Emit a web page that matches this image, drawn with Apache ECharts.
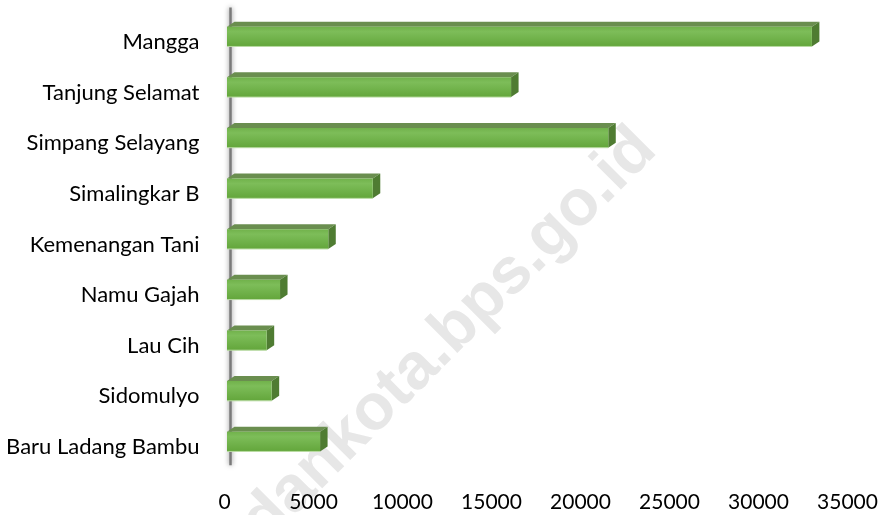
<!DOCTYPE html>
<html>
<head>
<meta charset="utf-8">
<script src="https://cdn.jsdelivr.net/npm/echarts@6/dist/echarts.min.js"></script>
<style>
html,body{margin:0;padding:0;background:#fff;}
#chart{width:883px;height:515px;}
</style>
</head>
<body>
<div id="chart"></div>
<script>
// Categories (top to bottom)
var categories = ['Mangga', 'Tanjung Selamat', 'Simpang Selayang', 'Simalingkar B', 'Kemenangan Tani', 'Namu Gajah', 'Lau Cih', 'Sidomulyo', 'Baru Ladang Bambu'];
// Values
var values = [33000, 16100, 21560, 8330, 5830, 3120, 2370, 2650, 5370];
// Value-axis ticks
var axisMin = 0, axisMax = 35000, axisStep = 5000;
var watermarkText = 'medankota.bps.go.id';

var FONT = 'Lato, "Open Sans", "Noto Sans", sans-serif';
var chart = echarts.init(document.getElementById('chart'), null, {renderer: 'canvas'});

function renderItem(params, api) {
  var cat = api.value(1);
  var val = api.value(0);
  var p0 = api.coord([0, cat]);
  var p1 = api.coord([val, cat]);
  var band = api.size([0, 1])[1];
  var h = band * 0.39;
  var dx = 7.5, dy = 5;
  var x0 = p0[0] + 2.5, x1 = p1[0];
  var yC = p0[1] - band * 0.107;
  var yTop = yC - h / 2, yBot = yC + h / 2;
  return {
    type: 'group',
    children: [
      {type: 'polygon', shape: {points: [[x0, yTop], [x1, yTop], [x1 + dx, yTop - dy], [x0 + dx, yTop - dy]]},
       style: {fill: '#6a8e4f'}},
      {type: 'polygon', shape: {points: [[x1, yTop], [x1 + dx, yTop - dy], [x1 + dx, yBot - dy], [x1, yBot]]},
       style: {fill: '#4f7c32'}},
      {type: 'rect', shape: {x: x0, y: yTop, width: x1 - x0, height: h},
       style: {fill: new echarts.graphic.LinearGradient(0, 0, 0, 1, [
         {offset: 0, color: '#71b24b'},
         {offset: 0.25, color: '#7dbd59'},
         {offset: 1, color: '#63a63b'}
       ])}},
      {type: 'line', shape: {x1: x0, y1: yBot, x2: x1, y2: yBot},
       style: {stroke: '#b9dba3', lineWidth: 1}}
    ]
  };
}

var seriesData = values.map(function (v, i) { return [v, i]; });

chart.setOption({
  animation: false,
  backgroundColor: '#ffffff',
  grid: {left: 224.5, right: 35.5, top: 16.7, bottom: 42.7, containLabel: false},
  xAxis: {
    type: 'value', min: axisMin, max: axisMax, interval: axisStep,
    axisLine: {show: false}, axisTick: {show: false}, splitLine: {show: false},
    axisLabel: {color: '#000', fontSize: 21, fontFamily: FONT, margin: 19,
                formatter: function (v) { return String(v); }}
  },
  yAxis: {
    type: 'category', data: categories, inverse: true,
    axisLine: {show: false}, axisTick: {show: false}, splitLine: {show: false},
    axisLabel: {color: '#000', fontSize: 22, fontFamily: FONT, margin: 25}
  },
  series: [{
    type: 'custom', renderItem: renderItem, data: seriesData,
    encode: {x: 0, y: 1}, z: 5
  }]
});

// Decorative wall edge and watermark
var pa = chart.convertToPixel({gridIndex: 0}, [0, 0]);
var pb = chart.convertToPixel({gridIndex: 0}, [0, categories.length - 1]);
var bandPx = (pb[1] - pa[1]) / (categories.length - 1);
chart.setOption({
  graphic: [
    {type: 'text', x: 416, y: 369, rotation: Math.PI / 4, z: -10, silent: true,
     style: {text: watermarkText, font: 'bold 65px "Liberation Sans", Arial, sans-serif',
             fill: '#e7e7e7', align: 'center', verticalAlign: 'middle'}},
    {type: 'line', z: 1, silent: true,
     shape: {x1: pa[0] + 6, y1: pa[1] - bandPx * 0.68, x2: pa[0] + 6, y2: pb[1] + bandPx * 0.36},
     style: {stroke: '#7a7a7a', lineWidth: 2.5, shadowBlur: 5, shadowColor: 'rgba(0,0,0,0.5)'}}
  ]
});
</script>
</body>
</html>
